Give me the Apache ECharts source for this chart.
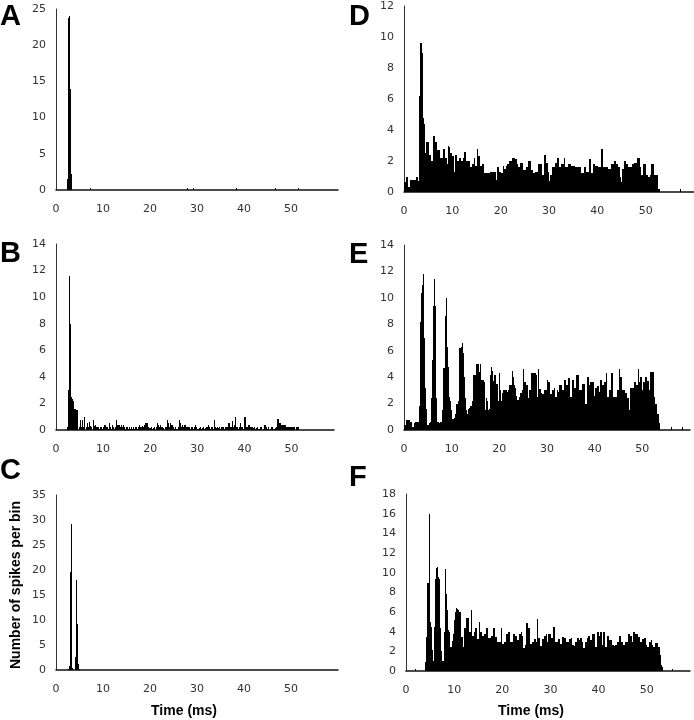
<!DOCTYPE html>
<html>
<head>
<meta charset="utf-8">
<script src="https://cdn.jsdelivr.net/npm/echarts@6/dist/echarts.min.js"></script>
<style>html,body{margin:0;padding:0;background:#fff}#c{width:694px;height:720px}</style>
</head>
<body>
<div id="c"></div>
<script>
// ---- data (bin width 0.2 ms; dense arrays start at t = 0) ----
const BIN = 0.2;
const panelLetters = ['A', 'B', 'C', 'D', 'E', 'F'];
const yMaxes = [25, 14, 35, 12, 14, 18];
const yIntervals = [5, 2, 5, 2, 2, 2];
const xMaxes = [60, 59, 60, 60, 60, 59];
const xInterval = 10;

const spikesA = [[2.4,1.5],[2.6,23.8],[2.8,24],[3.0,14],[3.2,2.2],
  [7.2,0.3],[27.8,0.3],[29.2,0.3],[38.4,0.3],[46.6,0.3],[51.4,0.3]];

const valsB = [
  0,0,0,0,0,  0,0,0,0,0,  0,0,0.2,3.0,11.6,  8.0,2.5,2.3,2.2,1.6,
  1.6,1.5,1.5,0,0.2,  0.75,0.2,0,0.75,0.2,  0.95,0,0.2,0.5,0.2,  0.6,0.3,0.2,0,0.75,
  0.3,0.4,0.2,0.1,0.2,  0.2,0.1,0.2,0.2,0.1,  0.2,0.4,0.4,0.2,0.2,  0.1,0.55,0.2,0.1,0.4,
  0.2,0.25,0.1,0.2,0.75,  0.4,0.4,0.4,0.2,0.4,  0.2,0.4,0.25,0.1,0.2,  0.25,0.1,0.2,0.1,0.1,
  0.2,0.1,0.2,0.1,0.2,  0.25,0.1,0.2,0.4,0.2,  0.2,0.3,0.2,0.4,0.55,  0.55,0.5,0.5,0.2,0.15,
  0.15,0.2,0.1,0.15,0.2,  0,0.2,0.55,0.4,0.2,  0.4,0.2,0.1,0.2,0.15,  0,0.2,0.2,0.75,0.5,
  0.2,0.5,0.4,0.4,0.2,  0.1,0.2,0.1,0.1,0.2,  0.75,0.55,0.55,0.2,0.4,  0.25,0.4,0.4,0.2,0.2,
  0.25,0.2,0.1,0.25,0.2,  0.1,0.2,0.1,0.4,0.2,  0.1,0.1,0.15,0.2,0.1,  0.15,0.2,0.1,0.15,0.2,
  0.2,0.4,0.2,0.1,0.2,  0.1,0.2,0.1,0.75,0.2,  0.15,0.2,0.15,0.2,0.1,  0.2,0.25,0.2,0.1,0.2,
  0.2,0.2,0.55,0.55,0.55,  0.2,0.2,0.7,0.2,0.4,  0.95,0.2,0.25,0.1,0.2,  0.5,0.2,0.25,0.1,0.1,
  0.95,0.95,0.2,0.2,0.4,  0.4,0.25,0.2,0.2,0.15,  0.2,0.1,0.15,0.2,0.1,  0.1,0.2,0.2,0.2,0,
  0.1,0.4,0.4,0.2,0.1,  0.2,0,0.1,0.2,0.2,  0.1,0.1,0.15,0.2,0.1,  0.8,0.8,0.55,0.55,0.4,
  0.4,0.4,0.4,0.4,0.2,  0.2,0.2,0.2,0.2,0.2,  0.2,0.2,0.2,0.2,0,  0.2,0.2,0.2,0,0
];

const spikesC = [[2.6,0.2],[2.8,0.8],[3.0,19.6],[3.2,29.3],[3.4,0.5],
  [4.0,2.6],[4.2,18],[4.4,9.3],[4.6,1.2],[4.8,0.3]];

const valsD = [
  0.65,0.65,1.0,1.0,0.3,  0.3,0.8,0.8,0.8,0.8,  0.8,0.8,1.0,1.0,0.7,  0.7,6.2,9.6,9.6,9.0,
  4.8,4.4,2.5,3.2,3.2,  3.2,2.4,2.4,2.0,2.0,  3.6,3.6,3.2,3.2,2.7,  2.7,2.7,2.2,2.2,2.2,
  2.8,2.8,2.2,2.2,1.8,  3.0,2.9,2.9,2.5,2.5,  2.3,2.3,1.3,2.4,2.4,  2.0,2.0,2.2,2.2,2.0,
  2.0,2.2,2.6,2.6,2.0,  2.0,2.0,2.0,1.6,1.6,  1.8,1.8,2.2,1.7,1.7,  2.8,2.8,2.3,2.3,1.7,
  1.7,1.8,1.8,1.2,1.2,  1.2,1.2,1.2,1.2,1.3,  1.3,1.3,1.3,1.3,1.3,  0.75,1.6,1.6,1.3,1.3,
  1.2,1.2,1.7,1.5,1.5,  1.7,1.7,1.8,1.8,2.0,  2.0,2.0,2.2,2.2,2.2,  2.1,2.1,1.8,1.6,1.6,
  1.9,1.9,1.9,1.4,1.4,  1.4,1.6,1.6,2.0,2.0,  2.0,1.4,1.4,1.2,1.2,  1.3,1.3,1.3,1.3,1.8,
  1.8,1.8,1.8,1.1,1.1,  2.4,2.4,1.9,1.9,1.3,  0.7,1.1,1.1,1.6,1.6,  1.6,1.9,1.9,2.2,2.2,
  1.6,1.6,1.8,1.8,1.8,  2.2,2.2,1.6,1.6,1.6,  1.8,1.8,1.8,1.7,1.7,  1.7,1.7,1.6,1.6,1.6,
  1.6,1.6,1.6,1.2,1.2,  1.2,1.6,1.6,1.3,1.3,  1.3,2.1,2.1,1.2,1.2,  1.8,1.8,1.8,1.7,1.7,
  1.7,1.6,1.6,1.6,2.8,  2.8,1.6,1.6,1.6,1.6,  1.6,1.5,1.5,1.5,1.8,  1.8,1.8,2.0,2.0,1.8,
  1.8,1.6,1.6,1.0,0.65,  0.65,1.5,1.5,2.0,2.0,  1.8,1.8,1.6,1.6,1.6,  1.6,1.8,1.8,1.9,1.9,
  1.9,2.2,2.2,2.2,1.6,  1.1,1.1,1.8,1.8,1.8,  1.1,1.1,1.0,1.0,1.1,  1.1,1.8,1.8,1.8,1.1,
  1.1,1.1,1.1,0.2,0.2
];
const tailD = [[57.2,0.2]];

const valsE = [
  0.4,0.4,0.75,0.75,0.75,  0.75,0.6,0.6,0.25,0.25,  0.55,0.55,0.6,0.6,0.6,  0.6,1.8,8.2,10.4,11.0,
  11.8,7.0,3.2,1.6,0.4,  0.4,0.5,0.6,2.4,5.3,  9.4,11.4,9.4,5.0,2.4,  0.6,0.6,0.5,0.6,0.6,
  1.5,4.7,4.7,8.6,10.0,  6.3,4.8,2.5,2.2,1.5,  0.8,0.8,0.9,1.0,1.2,  2.0,2.0,2.2,6.2,6.2,
  6.3,6.6,5.8,4.0,2.4,  1.5,1.2,1.6,1.7,1.8,  1.8,2.2,4.2,4.2,4.2,  5.0,5.0,5.0,5.0,4.4,
  5.0,3.8,3.8,3.8,3.6,  1.5,2.4,2.2,1.5,1.6,  4.2,4.8,4.5,3.7,4.2,  4.2,3.0,3.5,3.5,2.2,
  4.3,3.0,2.2,2.8,3.0,  3.0,3.0,3.0,2.9,3.0,  3.4,3.4,3.4,4.5,4.0,  3.4,3.2,2.6,2.3,2.3,
  2.3,2.5,2.8,2.8,3.0,  4.6,3.6,3.6,3.4,3.4,  2.4,3.0,3.0,4.3,4.3,  4.3,4.3,4.3,4.2,2.5,
  2.5,4.6,3.1,3.1,2.8,  2.7,2.7,3.0,3.0,3.0,  3.8,3.6,3.6,2.7,2.7,  3.0,3.0,3.2,2.5,2.5,
  3.0,3.0,2.9,3.4,3.4,  3.4,3.0,3.0,3.8,3.8,  3.4,3.4,3.9,3.9,2.5,  2.5,3.8,3.8,3.2,3.2,
  4.2,4.2,4.2,3.0,3.0,  3.0,3.0,3.5,3.5,3.5,  2.0,2.0,4.0,4.0,3.4,  3.6,3.6,3.6,3.6,2.6,
  3.2,3.2,3.3,3.3,2.9,  2.9,3.8,3.8,3.4,3.4,  3.6,3.6,4.3,2.5,2.5,  3.0,3.0,4.3,4.3,2.5,
  2.5,2.5,2.5,3.0,3.0,  4.6,4.6,4.0,4.0,3.0,  3.0,3.0,2.8,2.8,2.4,  2.4,1.5,3.2,3.2,3.2,
  3.2,3.6,3.6,3.4,3.4,  4.6,3.6,3.6,4.0,4.0,  3.0,3.6,3.6,4.0,4.0,  3.7,3.7,3.0,4.4,4.4,
  4.4,4.4,2.5,2.0,2.0,  1.2,1.2,0.5,0.5,0
];
const tailE = [[56.0,0.2],[58.4,0.2]];

const valsF = [
  0,0,0,0,0,  0,0,0,0,0.2,  0,0,0,0,0,  0,0,0,0,0,
  0.9,3.5,9.0,9.0,16.0,  5.0,4.5,2.1,1.0,4.5,  9.4,10.5,10.6,9.6,9.4,  4.4,2.0,1.0,1.0,4.0,
  10.4,8.4,7.8,6.2,4.2,  4.0,2.4,2.4,3.1,3.8,  5.2,6.0,6.4,6.3,6.2,  6.0,6.0,3.5,3.5,2.4,
  4.4,4.4,5.4,5.4,5.4,  4.0,4.0,6.2,2.8,3.6,  3.6,4.0,4.4,4.4,3.3,  3.3,5.0,4.0,4.0,3.6,
  3.6,3.8,3.8,4.4,4.4,  3.4,3.4,3.4,3.6,3.6,  4.4,4.4,3.5,3.5,3.0,  3.0,3.0,3.0,3.0,4.4,
  2.7,2.7,3.0,3.0,3.8,  3.8,4.0,4.0,3.0,3.0,  3.0,3.8,3.8,3.6,3.6,  3.2,3.2,3.8,3.8,4.0,
  3.6,3.6,2.3,2.3,2.6,  4.9,4.9,4.4,4.4,2.7,  2.7,3.0,3.0,3.3,3.3,  2.9,5.3,3.4,3.4,2.5,
  2.5,3.3,3.3,3.6,3.6,  3.8,3.0,3.0,3.8,3.8,  3.8,3.4,3.4,4.5,4.5,  3.0,3.0,3.0,3.3,3.3,
  2.7,2.7,3.5,3.5,3.4,  3.4,3.0,3.0,3.0,3.3,  3.3,3.4,2.6,2.6,2.5,  2.5,3.0,3.0,3.4,3.4,
  3.2,3.4,3.4,3.0,2.3,  2.3,3.0,3.0,3.4,3.6,  3.6,3.2,3.2,3.8,3.8,  3.8,2.4,2.4,4.0,4.0,
  3.6,3.6,4.0,4.0,2.6,  4.0,4.0,2.4,2.4,3.6,  3.6,3.2,3.2,3.2,2.6,  2.6,2.5,2.6,2.6,3.0,
  3.0,3.6,3.6,3.0,3.0,  2.6,2.6,2.6,3.0,3.0,  3.0,3.8,3.8,3.6,3.6,  2.9,4.0,4.0,3.8,3.8,
  3.8,3.5,3.5,3.0,3.0,  3.3,3.3,3.4,3.4,2.6,  2.4,2.4,3.0,3.0,3.2,  3.2,2.6,2.4,2.4,2.8,
  2.8,2.8,2.4,2.4,1.6,  0.6,0.4,0,0,0
];
const tailF = [[55.2,0.2]];

// ---- build ----
function dense(vals) { return vals.map((v, i) => [+(i * BIN).toFixed(2), v]); }
const panelData = [
  spikesA,
  dense(valsB),
  spikesC,
  dense(valsD).concat(tailD),
  dense(valsE).concat(tailE),
  dense(valsF).concat(tailF)
];

// layout of the six plot areas (px)
const grids = [
  { left: 56,  top: 9,   width: 282, height: 181 },
  { left: 56,  top: 244, width: 278, height: 186 },
  { left: 56,  top: 495, width: 282, height: 175 },
  { left: 404, top: 6,   width: 290, height: 186 },
  { left: 404, top: 245, width: 286, height: 185 },
  { left: 406, top: 494, width: 284, height: 177 }
];
const letterPos = [[0, 17.5], [0, 254], [0, 471], [349, 17.5], [349, 255], [349, 478]];

const labelFont = { fontFamily: 'DejaVu Sans', fontSize: 11, color: '#333' };

function renderItem(params, api) {
  const x = api.value(0), v = api.value(1);
  if (!(v > 0)) return null;
  const p0 = api.coord([x, 0]);
  const p1 = api.coord([x + BIN, v]);
  const xl = Math.round(p0[0]);
  const xr = Math.max(xl + 1, Math.round(p1[0]));
  const yb = Math.round(p0[1]);
  const yt = Math.min(yb - 1, Math.round(p1[1]));
  return {
    type: 'rect',
    shape: { x: xl, y: yt, width: xr - xl, height: yb - yt },
    style: { fill: '#000' }
  };
}

const option = {
  animation: false,
  backgroundColor: '#fff',
  grid: grids.map(g => Object.assign({ containLabel: false }, g)),
  xAxis: grids.map((g, i) => ({
    type: 'value', gridIndex: i, min: 0, max: xMaxes[i], interval: xInterval,
    axisLine: { show: true, onZero: false, lineStyle: { color: '#111', width: 1.5 } },
    axisTick: { show: false }, splitLine: { show: false },
    axisLabel: Object.assign({ margin: 14, showMaxLabel: false,
      formatter: v => (v % xInterval === 0 && v < 60 ? String(v) : '') }, labelFont)
  })),
  yAxis: grids.map((g, i) => ({
    type: 'value', gridIndex: i, min: 0, max: yMaxes[i], interval: yIntervals[i],
    axisLine: { show: true, lineStyle: { color: '#333', width: 1 } },
    axisTick: { show: false }, splitLine: { show: false },
    axisLabel: Object.assign({ margin: 10 }, labelFont)
  })),
  series: panelData.map((d, i) => ({
    type: 'custom', xAxisIndex: i, yAxisIndex: i, clip: true,
    renderItem: renderItem, encode: { x: 0, y: 1 }, data: d, silent: true
  })),
  graphic: panelLetters.map((L, i) => ({
    type: 'text', left: letterPos[i][0], top: letterPos[i][1] - 15,
    style: { text: L, font: 'bold 29px "Liberation Sans", Arial, sans-serif', fill: '#000' }
  })).concat([
    { type: 'text', x: 16, y: 585, rotation: Math.PI / 2,
      style: { text: 'Number of spikes per bin', font: 'bold 14px "Liberation Sans", Arial, sans-serif',
        fill: '#000', align: 'center', verticalAlign: 'middle' } },
    { type: 'text', x: 184, y: 711,
      style: { text: 'Time (ms)', font: 'bold 14px "Liberation Sans", Arial, sans-serif',
        fill: '#000', align: 'center', verticalAlign: 'middle' } },
    { type: 'text', x: 531, y: 711,
      style: { text: 'Time (ms)', font: 'bold 14px "Liberation Sans", Arial, sans-serif',
        fill: '#000', align: 'center', verticalAlign: 'middle' } }
  ])
};

const chart = echarts.init(document.getElementById('c'), null, { renderer: 'canvas' });
chart.setOption(option);
</script>
</body>
</html>
